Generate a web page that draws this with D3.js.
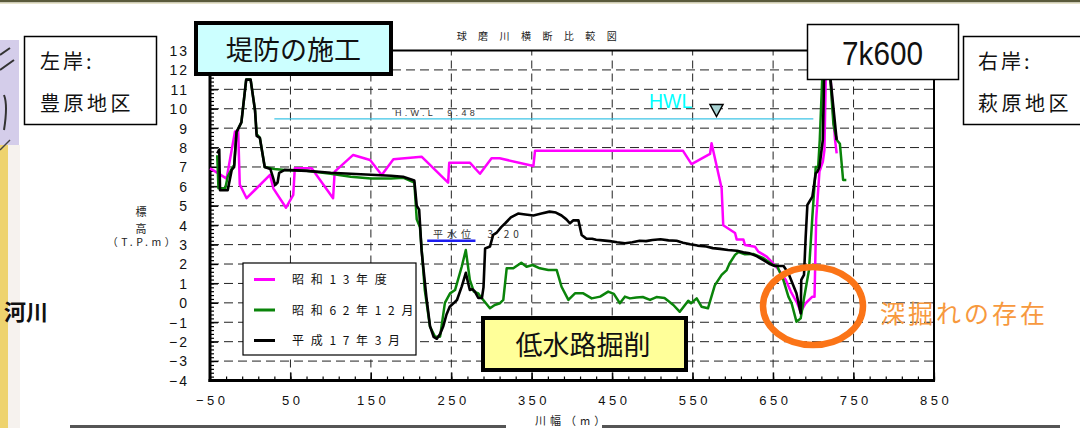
<!DOCTYPE html>
<html><head><meta charset="utf-8">
<script src="https://cdn.jsdelivr.net/npm/d3@7"></script>
<style>
html,body{margin:0;padding:0;background:#fff;}
svg{display:block;}
text{font-family:"Liberation Sans",Arial,"Noto Sans CJK JP",sans-serif;}
.jp{font-family:"Noto Sans CJK JP","Noto Sans CJK SC",sans-serif;}
</style></head>
<body>
<script>
// ---------- data ----------
const seriesNames = ["昭 和 1 3 年 度", "昭 和 6 2 年 1 2 月", "平 成 1 7 年 3 月"];
const seriesColors = ["#ff00ff", "#0a840a", "#000000"];

const showa13 = [[-50,6.93],[-39.7,6.67],[-29.4,6.4],[-19,8.82],[-15,8.9],[-13,6.1],[-4.5,5.39],[24.6,6.59],[28.7,5.9],[44.5,4.9],[53.5,5.56],[55.4,6.93],[76.4,6.93],[103,5.39],[105,6.76],[128,7.62],[149,7.36],[163.5,6.59],[178,7.4],[213,7.53],[246,6.19],[247.4,7.22],[273,7.22],[285.6,6.65],[300,7.45],[310,7.45],[352,7.05],[354,7.83],[538,7.83],[548.6,7.15],[571.6,7.67],[573.5,8.22],[586,5.9],[588,4.0],[602.7,3.6],[604.7,3.27],[613,3.27],[615,2.98],[627.5,2.89],[631.6,2.64],[642,2.38],[648,2.12],[655.5,1.78],[665.8,1.18],[672,0.58],[680,-0.02],[684.3,-0.46],[690.5,-0.02],[698.8,0.32],[701.5,0.32],[703.5,4.27],[707.6,6.76],[711.8,7.27],[713.8,7.87],[716,12.9],[719,12.9],[727,8.4],[729,7.7]];

const showa62 = [[-41,7.6],[-39.5,5.9],[-31,5.9],[-28,6.5],[-23,6.9],[-20,7.1],[-17,8.8],[-11,9.3],[-5,11.5],[0.5,11.5],[6,9.9],[8,8.7],[12,8.5],[18,7.0],[30,6.9],[43,6.85],[70,6.8],[100,6.65],[125,6.5],[150,6.4],[175,6.4],[190,6.45],[204,6.2],[207,4.3],[211,3.9],[217,0.66],[223.5,-1.23],[229.7,-1.74],[236,-1.74],[242,0.0],[248.4,0.49],[254.6,0.66],[262.9,1.86],[268,2.72],[273,1.18],[278,0.58],[283.5,0.49],[285.7,0.35],[298,-0.28],[304,-0.11],[310.5,-0.02],[314.6,0.15],[318.8,1.78],[327,1.78],[337,2.07],[343.5,1.86],[351,1.95],[360,1.78],[370.6,1.69],[381,1.69],[387,0.83],[395.5,0.15],[403.7,0.49],[414,0.49],[424.5,0.23],[435,0.32],[445,0.58],[452,0.46],[459.5,-0.02],[465.7,0.32],[472,0.23],[480,0.28],[488,0.3],[497,0.15],[505,0.3],[515,0.25],[526,-0.11],[534,-0.46],[544.5,0.11],[548,-0.02],[555,0.23],[561,-0.2],[569,-0.28],[577.5,0.9],[586,1.44],[592.3,1.69],[596,2.04],[602.7,2.47],[607,2.62],[615,2.5],[625.3,2.52],[638,2.3],[650,1.95],[655,1.9],[662.7,1.18],[669,0.32],[673,-0.02],[679,-0.97],[684.3,-0.8],[688.4,0.23],[694.6,1.69],[698.8,4.44],[703,7.0],[706,7.0],[708,8.4],[711,11.5],[714,12.9],[719,12.9],[722,11],[725,9.2],[729,8.4],[733,8.2],[737,6.33],[741,6.33]];

const heisei17 = [[-41,7.7],[-38.5,7.9],[-37.5,5.8],[-28,5.8],[-23,6.85],[-20,7.0],[-17,8.8],[-11,9.3],[-5,11.5],[0.5,11.5],[6,9.9],[8,8.6],[12,8.5],[18,7.0],[25,6.9],[28,6.5],[31,6.07],[34,6.2],[36,6.7],[43,6.85],[70,6.8],[100,6.7],[125,6.65],[150,6.6],[175,6.55],[190,6.5],[204,6.3],[207,5.0],[210,4.8],[213,2.7],[219,0.3],[223.5,-1.2],[228,-1.75],[232,-1.85],[236,-1.6],[240,-1.2],[244,-0.6],[248,-0.2],[252,-0.05],[257,0.15],[263,0.85],[268,1.55],[271,1.0],[273,0.66],[276,0.7],[279,0.6],[283.5,0.25],[288,0.25],[290,0.8],[292,2.8],[298,2.9],[302,3.5],[306,3.6],[312,3.9],[317,4.1],[324,4.4],[333,4.6],[342,4.55],[352,4.5],[362,4.6],[372,4.7],[380,4.65],[387,4.5],[393,4.3],[397.5,4.1],[401.7,4.25],[408,4.25],[412,3.5],[418,3.3],[425,3.3],[430,3.25],[438,3.22],[447,3.18],[456,3.12],[466,3.07],[475,3.12],[484,3.2],[492,3.18],[500,3.24],[510,3.28],[520,3.22],[530,3.2],[538,3.1],[547,3.02],[556,2.95],[567,2.9],[575,2.82],[584,2.78],[594,2.72],[605,2.68],[613,2.6],[621,2.55],[630,2.4],[638,2.2],[646,2.0],[652,1.9],[663,1.9],[669,1.52],[679,0.49],[684.3,-0.55],[685,1.18],[688.4,1.44],[690.5,3.41],[692.6,5.04],[698.8,5.47],[703,6.67],[705,6.76],[707.6,7.0],[711.8,8.4],[714,12.9],[718,12.9],[729,8.4]];

const xTickValues = [-50,50,150,250,350,450,550,650,750,850];
const yTickValues = [-4,-3,-2,-1,0,1,2,3,4,5,6,7,8,9,10,11,12,13];
const hwlLevel = 9.48, hwlRange = [30, 700];
const flatLevel = 3.20, flatRange = [220, 280];

// ---------- layout ----------
const W = 1080, H = 428;
const svg = d3.select("body").append("svg").attr("width", W).attr("height", H);
const x = d3.scaleLinear([-50, 850], [210, 934]);
const y = d3.scaleLinear([-4, 13], [380.5, 50.5]);

// background decorations
svg.append("rect").attr("x",0).attr("y",0).attr("width",W).attr("height",2.5).attr("fill","#5a5a3c");
svg.append("rect").attr("x",0).attr("y",2.5).attr("width",W).attr("height",1.5).attr("fill","#e8e4cc");
svg.append("rect").attr("x",0).attr("y",40).attr("width",19).attr("height",105).attr("fill","#d4cdea");
svg.append("path").attr("d","M0,55 L10,48 M0,70 L14,60 M4,95 Q8,105 4,130").attr("stroke","#333").attr("stroke-width",2).attr("fill","none");
svg.append("rect").attr("x",0).attr("y",145).attr("width",8).attr("height",H-145).attr("fill","#eed36e");
svg.append("rect").attr("x",8).attr("y",145).attr("width",12).attr("height",H-145).attr("fill","#f6f2ee");
svg.append("path").attr("d","M0,150 L10,140").attr("stroke","#444").attr("stroke-width",1.5);
svg.append("text").attr("class","jp").attr("x",48).attr("y",320).attr("text-anchor","end")
  .attr("font-size",22).attr("font-weight","bold").attr("fill","#111").text("河川");
svg.append("rect").attr("x",70).attr("y",425).attr("width",990).attr("height",3).attr("fill","#555");

// grid
const g = svg.append("g");
g.selectAll("line.hg").data(yTickValues.filter(v => v > -4 && v < 13)).join("line")
  .attr("x1", x(-50)).attr("x2", x(850)).attr("y1", d => y(d)).attr("y2", d => y(d))
  .attr("stroke", "#222").attr("stroke-width", 1).attr("stroke-dasharray", "9,5");
g.selectAll("line.vg").data(xTickValues.filter(v => v > -50 && v < 850)).join("line")
  .attr("y1", y(-4)).attr("y2", y(13)).attr("x1", d => x(d)).attr("x2", d => x(d))
  .attr("stroke", "#222").attr("stroke-width", 1).attr("stroke-dasharray", "8,5");

// frame top/right
svg.append("line").attr("x1",x(-50)).attr("x2",x(850)).attr("y1",y(13)).attr("y2",y(13)).attr("stroke","#000").attr("stroke-width",2);
svg.append("line").attr("x1",x(850)).attr("x2",x(850)).attr("y1",y(13)).attr("y2",y(-4)).attr("stroke","#000").attr("stroke-width",2);

// y axis minor/major ticks inside
const yMinor = svg.append("g").attr("transform", `translate(${x(-50)},0)`)
  .call(d3.axisRight(y).tickValues(d3.range(-4, 13.001, 0.2)).tickSize(4).tickFormat(""));
const yMajor = svg.append("g").attr("transform", `translate(${x(-50)},0)`)
  .call(d3.axisRight(y).tickValues(yTickValues).tickSize(8).tickFormat(""));
[yMinor, yMajor].forEach(a => { a.select(".domain").remove(); a.selectAll("line").attr("stroke","#000").attr("stroke-width",1.2); });

// y labels
const yLab = svg.append("g").attr("transform", `translate(${x(-50)},0)`)
  .call(d3.axisLeft(y).tickValues(yTickValues).tickSize(0).tickPadding(21));
yLab.select(".domain").remove();
yLab.selectAll("text").attr("font-size",14).attr("letter-spacing","2px").attr("fill","#111").attr("dy","0.35em");

// x axis ticks
const xMinor = svg.append("g").attr("transform", `translate(0,${y(-4)})`)
  .call(d3.axisTop(x).tickValues(d3.range(-50, 851, 20)).tickSize(4).tickFormat(""));
const xMajor = svg.append("g").attr("transform", `translate(0,${y(-4)})`)
  .call(d3.axisTop(x).tickValues(xTickValues).tickSize(8).tickFormat(""));
[xMinor, xMajor].forEach(a => { a.select(".domain").remove(); a.selectAll("line").attr("stroke","#000").attr("stroke-width",1.2); });
const xLab = svg.append("g").attr("transform", `translate(0,${y(-4)})`)
  .call(d3.axisBottom(x).tickValues(xTickValues).tickSize(0).tickPadding(15));
xLab.select(".domain").remove();
xLab.selectAll("text").attr("font-size",13).attr("letter-spacing","3.5px").attr("dx","1.7px").attr("fill","#111");

// axis lines
svg.append("line").attr("x1",x(-50)).attr("x2",x(-50)).attr("y1",y(13)).attr("y2",y(-4)+1.5).attr("stroke","#000").attr("stroke-width",3);
svg.append("line").attr("x1",x(-50)-1.5).attr("x2",x(850)+1).attr("y1",y(-4)).attr("y2",y(-4)).attr("stroke","#000").attr("stroke-width",3);

// HWL line
svg.append("line").attr("x1",x(hwlRange[0])).attr("x2",x(hwlRange[1])).attr("y1",y(hwlLevel)).attr("y2",y(hwlLevel))
  .attr("stroke","#3cc4e6").attr("stroke-width",1.3);
svg.append("text").attr("x",395).attr("y",y(hwlLevel)-3).attr("font-size",9).attr("letter-spacing","3.3px").attr("fill","#333")
  .style("white-space","pre").text("H.W.L  9.48");
svg.append("text").attr("x",649).attr("y",108).attr("font-size",19.5).attr("fill","#00ffff").text("HWL");
svg.append("path").attr("d","M710,104.5 L723,104.5 L716.5,116.5 Z").attr("fill","#a9d3d3").attr("stroke","#000").attr("stroke-width",1.5);

// flat water level
svg.append("line").attr("x1",x(flatRange[0])).attr("x2",x(flatRange[1])).attr("y1",y(flatLevel)).attr("y2",y(flatLevel))
  .attr("stroke","#1c1cf0").attr("stroke-width",2.5);
svg.append("text").attr("class","jp").attr("x",433).attr("y",238).attr("font-size",10).attr("letter-spacing","4px").attr("fill","#333")
  .style("white-space","pre").text("平水位  3.20");

// series
const line = d3.line().x(d => x(d[0])).y(d => y(d[1]));
const allSeries = [showa13, showa62, heisei17];
svg.append("g").selectAll("path").data(allSeries).join("path")
  .attr("d", line).attr("fill","none")
  .attr("stroke", (d,i) => seriesColors[i]).attr("stroke-width", (d,i) => i===2 ? 2.6 : 2.5)
  .attr("stroke-linejoin","round");

// title and axis labels
svg.append("text").attr("class","jp").attr("x",539).attr("y",40).attr("text-anchor","middle").attr("font-size",10)
  .attr("letter-spacing","4.6px").attr("fill","#222").text("球 磨 川 横 断 比 較 図");
const yTitle = svg.append("g").attr("class","jp").attr("fill","#222");
yTitle.append("text").attr("class","jp").attr("x",141).attr("y",216).attr("text-anchor","middle").attr("font-size",11).text("標");
yTitle.append("text").attr("class","jp").attr("x",141).attr("y",233).attr("text-anchor","middle").attr("font-size",11).text("高");
yTitle.append("text").attr("class","jp").attr("x",143).attr("y",246).attr("text-anchor","middle").attr("font-size",10.5).attr("letter-spacing","3.5px").text("（T.P.m）");
svg.append("rect").attr("x",506).attr("y",414).attr("width",96).attr("height",14).attr("fill","#fff");
svg.append("text").attr("class","jp").attr("x",535).attr("y",425).attr("font-size",11).attr("letter-spacing","4px").attr("fill","#222").text("川幅（m）");

// legend
const lg = svg.append("g");
lg.append("rect").attr("x",243).attr("y",263).attr("width",173).attr("height",92).attr("fill","#fff").attr("stroke","#000").attr("stroke-width",1.2);
const rows = lg.selectAll("g.row").data(seriesNames).join("g").attr("transform",(d,i)=>`translate(0,${279.5 + i*30.5})`);
rows.append("line").attr("x1",254).attr("x2",275).attr("stroke",(d,i)=>seriesColors[i]).attr("stroke-width",3);
rows.append("text").attr("class","jp").attr("x",292).attr("dy","0.38em").attr("font-size",12).attr("letter-spacing","2px").attr("fill","#111").text(d=>d);

// annotation boxes
function box(x0,y0,w,h,fill,sw){ svg.append("rect").attr("x",x0).attr("y",y0).attr("width",w).attr("height",h).attr("fill",fill).attr("stroke","#000").attr("stroke-width",sw); }
box(196,23,195,51,"#ccffff",4);
svg.append("text").attr("class","jp").attr("x",293.5).attr("y",50).attr("dy","0.36em").attr("text-anchor","middle").attr("font-size",27).attr("fill","#111").text("堤防の施工");
box(483,318,203,52,"#ffff99",4);
svg.append("text").attr("class","jp").attr("x",583).attr("y",345).attr("dy","0.36em").attr("text-anchor","middle").attr("font-size",27).attr("fill","#111").text("低水路掘削");
box(807.5,24.5,151,55,"#fff",1.5);
svg.append("text").attr("x",882.5).attr("y",65).attr("text-anchor","middle").attr("font-size",33)
  .attr("textLength",81).attr("lengthAdjust","spacingAndGlyphs").attr("fill","#111").text("7k600");
box(24.5,36.5,132,88,"#fff",1.5);
svg.append("text").attr("class","jp").attr("x",40).attr("y",62).attr("dy","0.36em").attr("font-size",20).attr("letter-spacing","3px").attr("fill","#111").text("左岸:");
svg.append("text").attr("class","jp").attr("x",40).attr("y",104).attr("dy","0.36em").attr("font-size",20).attr("letter-spacing","3.5px").attr("fill","#111").text("豊原地区");
box(963.5,36.5,130,88,"#fff",1.5);
svg.append("text").attr("class","jp").attr("x",978).attr("y",62).attr("dy","0.36em").attr("font-size",20).attr("letter-spacing","3px").attr("fill","#111").text("右岸:");
svg.append("text").attr("class","jp").attr("x",978).attr("y",104).attr("dy","0.36em").attr("font-size",20).attr("letter-spacing","3.5px").attr("fill","#111").text("萩原地区");

// ellipse + note
svg.append("ellipse").attr("cx",813).attr("cy",306).attr("rx",50).attr("ry",39).attr("fill","none").attr("stroke","#fb7417").attr("stroke-width",6.5);
svg.append("text").attr("class","jp").attr("x",880).attr("y",314).attr("dy","0.36em").attr("font-size",25).attr("letter-spacing","3px").attr("fill","#f7993e").text("深掘れの存在");
</script>
</body></html>
